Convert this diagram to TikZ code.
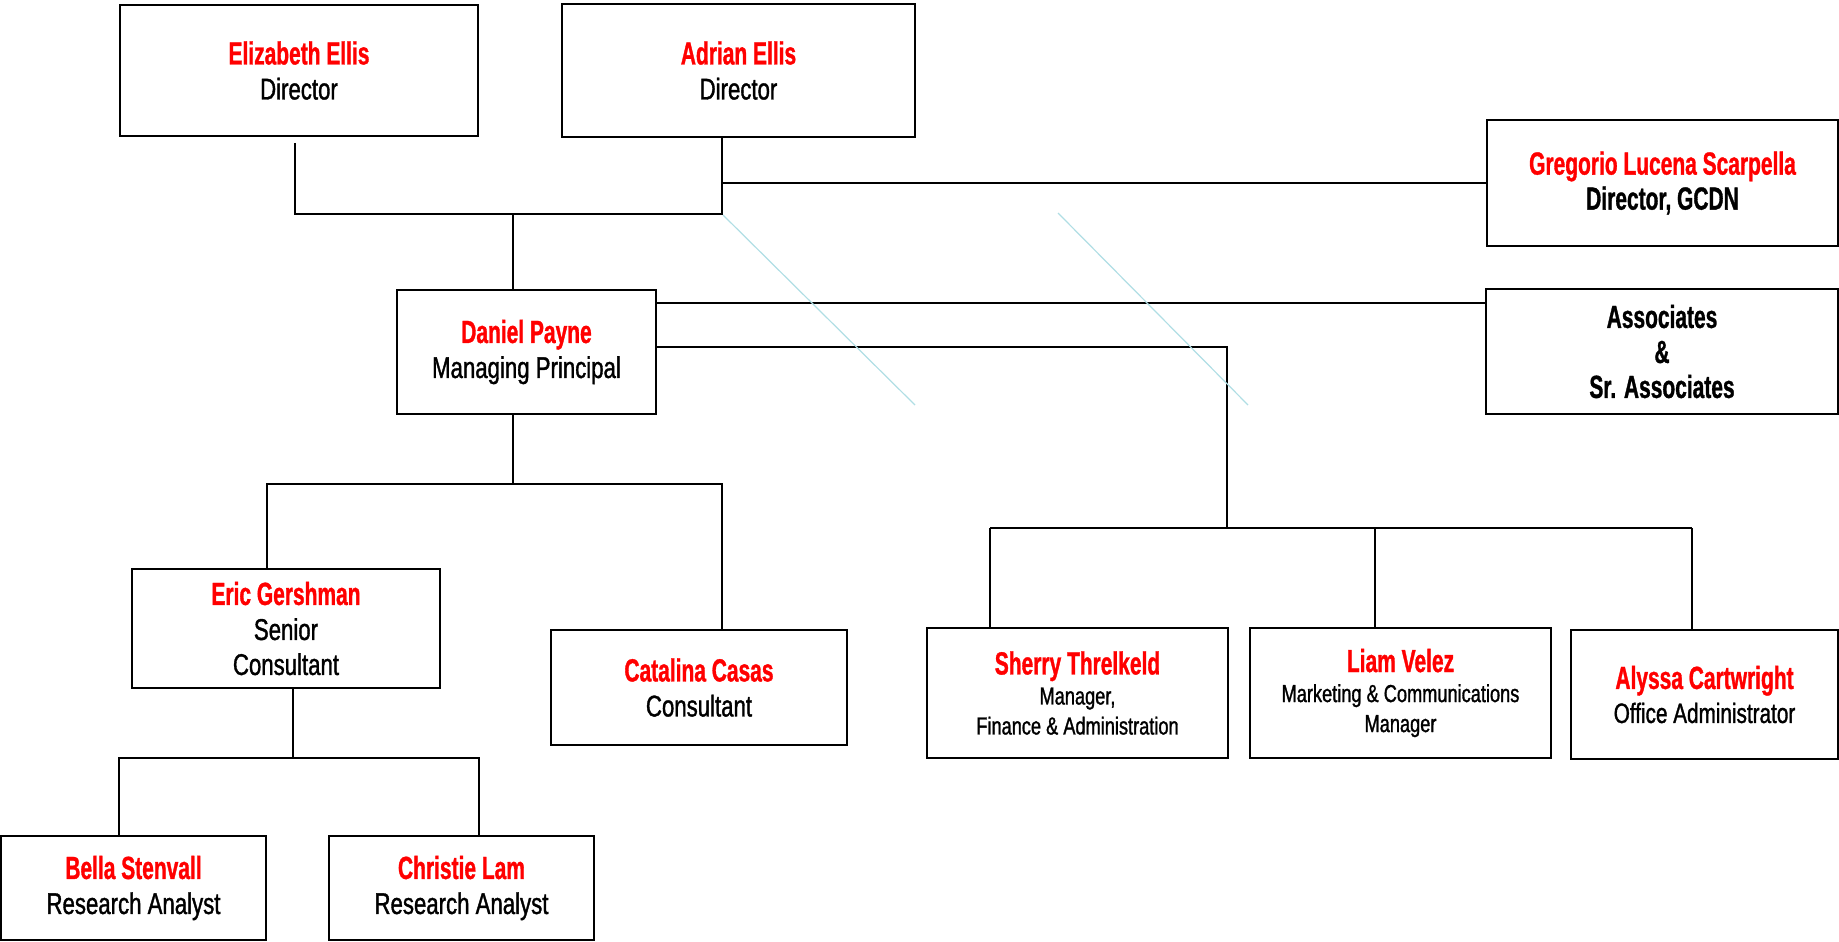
\documentclass[tikz,border=0pt]{standalone}
\usepackage{fontspec}
\setmainfont{Liberation Sans}[FakeStretch=0.74,FakeBold=1.2]
\newfontfamily\namefont{Liberation Sans}[FakeStretch=0.655,FakeBold=1]
\newcommand{\pname}[1]{{\fontsize{16}{17.5}\namefont\bfseries\color{red}#1}}
\newcommand{\pbold}[1]{{\fontsize{16}{17.5}\namefont\bfseries #1}}
\definecolor{strayblue}{RGB}{176,222,228}

\begin{document}
\begin{tikzpicture}[x=0.5pt,y=-0.5pt]

      \useasboundingbox (0,0) rectangle (1839,941);

      \begin{scope}[every node/.style={draw,line width=1pt,align=center,inner sep=0pt,
          font=\fontsize{15}{17.5}\selectfont}]
        \node[minimum width=179pt,minimum height=65.5pt]   (eellis) at (299,70.5)    {\pname{Elizabeth Ellis}\\Director};
        \node[minimum width=176.5pt,minimum height=66.5pt] (aellis) at (738.5,70.5)  {\pname{Adrian Ellis}\\Director};
        \node[minimum width=175.5pt,minimum height=63pt]   (gscarp) at (1662.5,183)  {\pname{Gregorio Lucena Scarpella}\\\pbold{Director, GCDN}};
        \node[minimum width=176pt,minimum height=62.5pt]   (assoc)  at (1662,351.5)  {\pbold{Associates}\\\pbold{\&}\\\pbold{Sr. Associates}};
        \node[minimum width=129.5pt,minimum height=62pt]   (dpayne) at (526.5,352)   {\pname{Daniel Payne}\\Managing Principal};
        \node[minimum width=154pt,minimum height=59.5pt]   (egersh) at (286,628.5)   {\pname{Eric Gershman}\\Senior\\Consultant};
        \node[minimum width=148pt,minimum height=57.5pt]   (ccasas) at (699,687.5)   {\pname{Catalina Casas}\\Consultant};
        \node[minimum width=132.5pt,minimum height=52pt]   (bstenv) at (133.5,888)   {\pname{Bella Stenvall}\\Research Analyst};
        \node[minimum width=132.5pt,minimum height=52pt]   (clam)   at (461.5,888)   {\pname{Christie Lam}\\Research Analyst};
        \node[minimum width=133.5pt,minimum height=64.5pt,font=\fontsize{14}{17}\selectfont]
                                                           (acartw) at (1704.5,694.5) {\pname{Alyssa Cartwright}\\Office Administrator};
      \end{scope}

      \begin{scope}[every node/.style={draw,line width=1pt,align=center,inner sep=0pt,
          minimum width=150.5pt,minimum height=65pt,font=\fontsize{12.3}{15}\selectfont}]
        \node (sthrel) at (1077.5,693) {\pname{Sherry Threlkeld}\\Manager,\\Finance \& Administration};
        \node (lvelez) at (1400.5,693) {\pname{Liam Velez}\\Marketing \& Communications\\Manager};
      \end{scope}

      \coordinate (dirL)  at (295,214);
      \coordinate (dirR)  at (722,214);
      \coordinate (dirM)  at (513,214);
      \coordinate (consM) at (513,484);
      \coordinate (consL) at (267,484);
      \coordinate (consR) at (722,484);
      \coordinate (resM)  at (293,758);
      \coordinate (resL)  at (119,758);
      \coordinate (resR)  at (479,758);
      \coordinate (staffM) at (1227,528);
      \coordinate (staffA) at (990,528);
      \coordinate (staffB) at (1375,528);
      \coordinate (staffC) at (1692,528);

      \begin{scope}[line width=1pt]
        % directors
        \draw ([yshift=-3pt]dirL |- eellis.south) -- (dirL) -- (dirR) -- (dirR |- aellis.south);
        \draw (gscarp.west -| dirR) -- (gscarp.west);
        \draw (dirM) -- (dirM |- dpayne.north);
        % managing principal
        \draw ([yshift=-7pt]dpayne.north east) -- ([yshift=-7pt]dpayne.north east -| assoc.west);
        \draw ([yshift=2.5pt]dpayne.east) -| (staffM);
        \draw (consM |- dpayne.south) -- (consM);
        \draw (consL |- egersh.north) -- (consL) -- (consR) -- (consR |- ccasas.north);
        \draw (resM |- egersh.south) -- (resM);
        \draw (resL |- bstenv.north) -- (resL) -- (resR) -- (resR |- clam.north);
        % staff
        \draw (staffA) -- (staffC);
        \draw (staffA) -- (staffA |- sthrel.north);
        \draw (staffB) -- (staffB |- lvelez.north);
        \draw (staffC) -- (staffC |- acartw.north);
      \end{scope}

      \draw[strayblue,line width=0.6pt] (723,215) -- (915,405);
      \draw[strayblue,line width=0.6pt] (1058,213) -- (1248,405);

    \end{tikzpicture}
\end{document}
